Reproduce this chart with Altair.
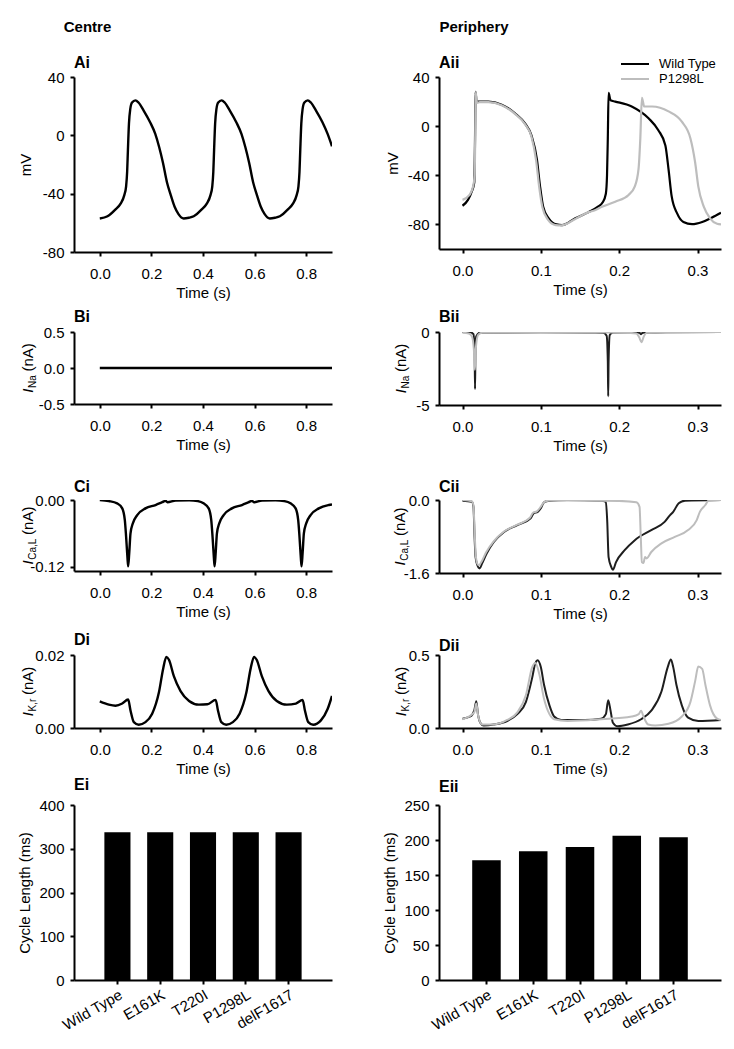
import altair as alt
import pandas as pd

FONT = "Liberation Sans"
WT_BLACK = "#000000"
WT_DARK = "#1e1e1e"
GREY = "#bdbdbd"
MINUS = "replace(datum.label, '\u2212', '-')"

# ---------------- data ----------------
# Ai : membrane potential, centre
AI_T = [0.000, 0.030, 0.060, 0.080, 0.095, 0.102, 0.106, 0.109, 0.113, 0.118, 0.125, 0.138, 0.150, 0.170, 0.195,
        0.215, 0.230, 0.245, 0.260, 0.275, 0.290, 0.305, 0.325, 0.345,
        0.364, 0.394, 0.414, 0.429, 0.436, 0.440, 0.443, 0.447, 0.452, 0.459, 0.472, 0.484, 0.504, 0.529, 0.549,
        0.564, 0.579, 0.594, 0.609, 0.624, 0.639, 0.659, 0.679,
        0.698, 0.728, 0.748, 0.763, 0.770, 0.774, 0.777, 0.781, 0.786, 0.793, 0.806, 0.818, 0.838, 0.863, 0.883, 0.900]
AI_V = [-57, -55.5, -51, -47, -41, -35, -25, -10, 8, 18, 22.5, 24, 22.5, 17, 9,
        1, -8, -19, -32, -41, -49, -54, -57, -56.5,
        -55.5, -51, -47, -41, -35, -25, -10, 8, 18, 22.5, 24, 22.5, 17, 9, 1,
        -8, -19, -32, -41, -49, -54, -57, -56.5,
        -55.5, -51, -47, -41, -35, -25, -10, 8, 18, 22.5, 24, 22.5, 17, 9, 1, -7.5]

# Aii : membrane potential, periphery
AII_WT_T = [0.000, 0.007, 0.012, 0.015, 0.0160, 0.0166, 0.018, 0.022, 0.033, 0.050,
            0.067, 0.080, 0.088, 0.095, 0.099, 0.103, 0.110, 0.120, 0.127, 0.144,
            0.161, 0.172, 0.179, 0.183, 0.1845, 0.1855, 0.1865, 0.189, 0.195, 0.216,
            0.2375, 0.250, 0.259, 0.263, 0.267, 0.274, 0.282, 0.293, 0.306, 0.318, 0.330]
AII_WT_V = [-64.8, -60, -53, -46, -10, 28, 20, 20, 20, 17.5,
            10.5, 2, -7.5, -27, -49, -65.6, -75, -80, -80.6, -75,
            -70, -66, -62, -55, -40, -10, 27, 21, 20, 16,
            6.4, -3.3, -15.8, -35, -57, -71, -78, -79.8, -78, -74.5, -70.4]
AII_MU_T = [0.000, 0.009, 0.0136, 0.0155, 0.0162, 0.0168, 0.0185, 0.022, 0.033, 0.050,
            0.067, 0.080, 0.088, 0.094, 0.098, 0.102, 0.109, 0.119, 0.126, 0.144,
            0.161, 0.169, 0.178, 0.195, 0.212, 0.220, 0.2247, 0.227, 0.229, 0.232,
            0.242, 0.263, 0.280, 0.291, 0.297, 0.301, 0.308, 0.316, 0.325, 0.330]
AII_MU_V = [-60, -56, -49, -40, -10, 28, 19, 19.5, 19.5, 17,
            10, 1.5, -8.5, -28, -50, -66, -76, -80.5, -80.8, -75.5,
            -70, -68.4, -65.6, -61.5, -56, -49, -35, -10, 23, 16,
            16, 12, 3.6, -10, -29.6, -49, -65.6, -75, -79.5, -80]

# Bi : I_Na centre
BI_T = [0.0, 0.3, 0.6, 0.9]
BI_V = [0.0, 0.0, 0.0, 0.0]

# Bii : I_Na periphery
BII_WT_T = [0.000, 0.010, 0.014, 0.0155, 0.0160, 0.0165, 0.0175, 0.022, 0.10, 0.17, 0.180, 0.184,
            0.1855, 0.186, 0.1865, 0.188, 0.192, 0.22, 0.226, 0.228, 0.230, 0.26, 0.33]
BII_WT_V = [0.0, -0.02, -0.15, -1.5, -3.9, -1.5, -0.3, -0.05, -0.02, -0.03, -0.06, -0.25,
            -2.0, -4.4, -2.0, -0.2, -0.03, -0.02, -0.06, -0.15, -0.05, -0.01, 0.0]
BII_MU_T = [0.000, 0.008, 0.012, 0.0145, 0.0158, 0.0172, 0.020, 0.025, 0.10, 0.20, 0.222, 0.2255,
            0.2285, 0.2315, 0.235, 0.26, 0.33]
BII_MU_V = [-0.05, -0.1, -0.3, -1.2, -2.6, -1.0, -0.2, -0.05, -0.02, -0.03, -0.1, -0.35,
            -0.7, -0.3, -0.06, -0.02, 0.0]

# Ci : I_CaL centre
CI_T = [0.000, 0.035, 0.067, 0.087, 0.097, 0.102, 0.107, 0.110, 0.114, 0.119, 0.128, 0.145, 0.177, 0.216,
        0.242, 0.255, 0.262, 0.294, 0.346,
        0.380, 0.402, 0.422, 0.432, 0.437, 0.442, 0.445, 0.449, 0.454, 0.463, 0.480, 0.512, 0.551, 0.577,
        0.590, 0.597, 0.629, 0.681,
        0.715, 0.739, 0.759, 0.769, 0.774, 0.779, 0.782, 0.786, 0.791, 0.800, 0.817, 0.849, 0.888, 0.900]
CI_V = [0.000, -0.002, -0.006, -0.015, -0.036, -0.066, -0.102, -0.119, -0.096, -0.060, -0.042, -0.027, -0.015, -0.009,
        -0.004, -0.0015, -0.004, -0.001, -0.0006,
        -0.002, -0.006, -0.015, -0.036, -0.066, -0.102, -0.119, -0.096, -0.060, -0.042, -0.027, -0.015, -0.009, -0.004,
        -0.0015, -0.004, -0.001, -0.0006,
        -0.002, -0.006, -0.015, -0.036, -0.066, -0.102, -0.119, -0.096, -0.060, -0.042, -0.027, -0.015, -0.009, -0.008]

# Cii : I_CaL periphery
CII_WT_T = [0.000, 0.012, 0.014, 0.0154, 0.0167, 0.019, 0.022, 0.025, 0.031, 0.040,
            0.053, 0.070, 0.087, 0.091, 0.096, 0.100, 0.104, 0.111, 0.134, 0.177,
            0.183, 0.1847, 0.1865, 0.190, 0.192, 0.196, 0.207, 0.220, 0.241, 0.258,
            0.265, 0.269, 0.276, 0.284, 0.330]
CII_WT_V = [-0.015, -0.04, -0.15, -0.81, -1.25, -1.43, -1.50, -1.39, -1.17, -0.92,
            -0.70, -0.55, -0.40, -0.29, -0.26, -0.18, -0.05, -0.015, 0.0, -0.015,
            -0.04, -0.44, -1.25, -1.47, -1.53, -1.36, -1.10, -0.88, -0.66, -0.48,
            -0.33, -0.26, -0.07, -0.015, 0.0]
CII_MU_T = [0.000, 0.012, 0.014, 0.0156, 0.0169, 0.019, 0.021, 0.024, 0.030, 0.040,
            0.053, 0.070, 0.086, 0.090, 0.095, 0.099, 0.104, 0.111, 0.150, 0.200,
            0.222, 0.226, 0.2276, 0.229, 0.231, 0.233, 0.235, 0.241, 0.254, 0.271,
            0.288, 0.299, 0.303, 0.310, 0.314, 0.330]
CII_MU_V = [0.0, -0.03, -0.12, -0.75, -1.20, -1.40, -1.43, -1.36, -1.15, -0.90,
            -0.69, -0.54, -0.39, -0.28, -0.25, -0.17, -0.05, -0.01, -0.01, -0.02,
            -0.05, -0.15, -0.81, -1.36, -1.38, -1.25, -1.28, -1.14, -0.95, -0.81,
            -0.66, -0.44, -0.26, -0.11, -0.015, 0.0]

# Di : I_Kr centre
DI_T = [0.000, 0.035, 0.061, 0.087, 0.110, 0.119, 0.132, 0.151, 0.177, 0.203,
        0.229, 0.246, 0.258, 0.268, 0.287, 0.313, 0.346, 0.384, 0.417, 0.449,
        0.458, 0.471, 0.490, 0.516, 0.542, 0.568, 0.585, 0.598, 0.608, 0.628,
        0.654, 0.686, 0.725, 0.760, 0.786, 0.795, 0.808, 0.827, 0.857, 0.883, 0.900]
DI_V = [0.0073, 0.0064, 0.0061, 0.0067, 0.0078, 0.0048, 0.0016, 0.0009, 0.0016, 0.0039,
        0.0097, 0.0164, 0.0195, 0.0187, 0.0142, 0.0101, 0.0074, 0.0064, 0.0065, 0.0077,
        0.0048, 0.0016, 0.0009, 0.0016, 0.0039, 0.0097, 0.0164, 0.0195, 0.0187, 0.0142,
        0.0101, 0.0074, 0.0064, 0.0067, 0.0077, 0.0048, 0.0016, 0.0009, 0.0021, 0.0052, 0.0088]

# Dii : I_Kr periphery
DII_WT_T = [0.000, 0.010, 0.015, 0.0176, 0.0197, 0.0227, 0.027, 0.040, 0.057, 0.070,
            0.081, 0.089, 0.093, 0.096, 0.100, 0.104, 0.111, 0.117, 0.126, 0.156,
            0.177, 0.183, 0.186, 0.189, 0.192, 0.198, 0.211, 0.228, 0.241, 0.254,
            0.262, 0.266, 0.269, 0.273, 0.280, 0.288, 0.301, 0.330]
DII_WT_V = [0.064, 0.079, 0.119, 0.183, 0.095, 0.036, 0.017, 0.024, 0.048, 0.095,
            0.179, 0.345, 0.445, 0.464, 0.417, 0.298, 0.155, 0.079, 0.055, 0.055,
            0.064, 0.095, 0.190, 0.119, 0.036, 0.012, 0.024, 0.060, 0.119, 0.250,
            0.417, 0.469, 0.417, 0.298, 0.155, 0.071, 0.048, 0.055]
DII_MU_T = [0.000, 0.015, 0.0176, 0.020, 0.025, 0.040, 0.057, 0.070, 0.081, 0.089,
            0.093, 0.098, 0.104, 0.111, 0.117, 0.134, 0.177, 0.216, 0.225, 0.228,
            0.231, 0.237, 0.246, 0.263, 0.280, 0.291, 0.297, 0.301, 0.306, 0.310,
            0.316, 0.325, 0.330]
DII_MU_V = [0.060, 0.107, 0.167, 0.083, 0.024, 0.024, 0.055, 0.107, 0.226, 0.417,
            0.445, 0.369, 0.202, 0.095, 0.060, 0.048, 0.060, 0.079, 0.095, 0.119,
            0.079, 0.024, 0.017, 0.029, 0.079, 0.179, 0.321, 0.421, 0.405, 0.298,
            0.155, 0.064, 0.055]

# E : cycle length bars
CATS = ["Wild Type", "E161K", "T220I", "P1298L", "delF1617"]
EI_VALS = [338, 338, 338, 338, 338]
EII_VALS = [171, 184, 190, 206, 204]

SERIES = ["Wild Type", "P1298L"]

LW, RW = 258, 282
LEFT_X = [-0.1, 0.9]
LEFT_TICKS = [0.0, 0.2, 0.4, 0.6, 0.8]
RIGHT_X = [-0.03, 0.33]
RIGHT_TICKS = [0.0, 0.1, 0.2, 0.3]

ANNOT = pd.DataFrame({"k": [0]})


def note(text, x, y, size=15, weight="normal", style="normal", angle=0,
         align="left", baseline="alphabetic"):
    return alt.Chart(ANNOT).mark_text(
        text=text, font=FONT, fontSize=size, fontWeight=weight, fontStyle=style,
        angle=angle, align=align, baseline=baseline, color="black"
    ).encode(x=alt.value(x), y=alt.value(y))


def xt(domain, ticks):
    return alt.X("t:Q", scale=alt.Scale(domain=domain, nice=False, zero=False),
                 axis=alt.Axis(values=ticks, format=".1f", title="Time (s)"))


def yv(domain, ticks, fmt, title=None, tp=6):
    return alt.Y("v:Q", scale=alt.Scale(domain=domain, nice=False, zero=False),
                 axis=alt.Axis(values=ticks, format=fmt, title=title, labelExpr=MINUS,
                               titlePadding=tp))


def line(t, v, x, y, color, width=2.0):
    df = pd.DataFrame({"t": t, "v": v})
    return alt.Chart(df).mark_line(color=color, strokeWidth=width, clip=True,
                                   interpolate="monotone").encode(x=x, y=y)


SUBW = {"Na": 12.8, "Ca,L": 21.1, "K,r": 12.8}


def ititle(sub, xb, h):
    w_i, w_sub, w_sp, w_rest = 4.2, SUBW[sub], 4.2, 28.3
    total = w_i + w_sub + w_sp + w_rest
    y0 = h / 2 + total / 2
    return [
        note("I", xb, y0, size=15, style="italic", angle=270),
        note(sub, xb + 3, y0 - w_i - 0.5, size=10, angle=270),
        note("(nA)", xb, y0 - w_i - w_sub - w_sp, size=15, angle=270),
    ]


# ---------------- panels ----------------
# Ai
x = xt(LEFT_X, LEFT_TICKS)
y = yv([-80, 40], [-80, -40, 0, 40], "d", "mV", 9)
p_ai = alt.layer(
    line(AI_T, AI_V, x, y, WT_BLACK, 2.4),
    note("Centre", 13.5, -50, size=15, weight="bold", align="center", baseline="middle"),
    note("Ai", 0, -9, size=16, weight="bold"),
).properties(width=LW, height=175)

# Aii
x = xt(RIGHT_X, RIGHT_TICKS)
y = yv([-100, 40], [-80, -40, 0, 40], "d", "mV", 7)
color = alt.Color("series:N", scale=alt.Scale(domain=SERIES, range=[WT_BLACK, GREY]),
                  legend=alt.Legend(title=None, orient="none", legendX=188, legendY=-21,
                                    direction="vertical", symbolType="M-2,0H2", symbolSize=196,
                                    symbolStrokeWidth=2, labelFont=FONT, labelFontSize=13,
                                    labelColor="black", labelOffset=16, rowPadding=0, padding=0))
df_wt = pd.DataFrame({"t": AII_WT_T, "v": AII_WT_V, "series": SERIES[0]})
df_mu = pd.DataFrame({"t": AII_MU_T, "v": AII_MU_V, "series": SERIES[1]})
p_aii = alt.layer(
    alt.Chart(df_wt).mark_line(strokeWidth=2.2, clip=True, interpolate="monotone").encode(
        x=x, y=y, color=color),
    alt.Chart(df_mu).mark_line(strokeWidth=2.2, clip=True, interpolate="monotone").encode(
        x=x, y=y, color=color),
    note("Periphery", 35, -50, size=15, weight="bold", align="center", baseline="middle"),
    note("Aii", 0, -9, size=16, weight="bold"),
).properties(width=RW, height=172)

# Bi
x = xt(LEFT_X, LEFT_TICKS)
y = yv([-0.5, 0.5], [-0.5, 0.0, 0.5], ".1f")
p_bi = alt.layer(
    line(BI_T, BI_V, x, y, WT_BLACK, 2.4),
    *ititle("Na", -41, 72),
    note("Bi", 0, -10, size=16, weight="bold"),
).properties(width=LW, height=72)

# Bii
x = xt(RIGHT_X, RIGHT_TICKS)
y = yv([-5, 0], [-5, 0], "d")
p_bii = alt.layer(
    line(BII_WT_T, BII_WT_V, x, y, WT_DARK, 2.0),
    line(BII_MU_T, BII_MU_V, x, y, GREY, 2.0),
    *ititle("Na", -33, 73),
    note("Bii", 0, -10, size=16, weight="bold"),
).properties(width=RW, height=73)

# Ci
x = xt(LEFT_X, LEFT_TICKS)
y = yv([-0.1275, 0.0], [-0.12, 0.0], ".2f")
p_ci = alt.layer(
    line(CI_T, CI_V, x, y, WT_BLACK, 2.4),
    *ititle("Ca,L", -41, 71),
    note("Ci", 0, -8, size=16, weight="bold"),
).properties(width=LW, height=71)

# Cii
x = xt(RIGHT_X, RIGHT_TICKS)
y = yv([-1.6, 0.0], [-1.6, 0.0], ".1f")
p_cii = alt.layer(
    line(CII_WT_T, CII_WT_V, x, y, WT_DARK, 2.0),
    line(CII_MU_T, CII_MU_V, x, y, GREY, 2.0),
    *ititle("Ca,L", -34, 73),
    note("Cii", 0, -8, size=16, weight="bold"),
).properties(width=RW, height=73)

# Di
x = xt(LEFT_X, LEFT_TICKS)
y = yv([0.0, 0.02], [0.0, 0.02], ".2f")
p_di = alt.layer(
    line(DI_T, DI_V, x, y, WT_BLACK, 2.4),
    *ititle("K,r", -41, 73),
    note("Di", 0, -10, size=16, weight="bold"),
).properties(width=LW, height=73)

# Dii
x = xt(RIGHT_X, RIGHT_TICKS)
y = yv([0.0, 0.5], [0.0, 0.5], ".1f")
p_dii = alt.layer(
    line(DII_WT_T, DII_WT_V, x, y, WT_DARK, 2.0),
    line(DII_MU_T, DII_MU_V, x, y, GREY, 2.0),
    *ititle("K,r", -33, 73),
    note("Dii", 0, -4, size=16, weight="bold"),
).properties(width=RW, height=73)


def bar_panel(vals, ymax, ticks, w, label, label_y, tp):
    df = pd.DataFrame({"cat": CATS, "val": vals})
    bars = alt.Chart(df).mark_bar(color="black").encode(
        x=alt.X("cat:N", sort=CATS, scale=alt.Scale(paddingInner=0.39, paddingOuter=0.71),
                axis=alt.Axis(title=None, labelAngle=-30, labelAlign="right", labelBaseline="top",
                              labelPadding=3)),
        y=alt.Y("val:Q", scale=alt.Scale(domain=[0, ymax], nice=False),
                axis=alt.Axis(values=ticks, format="d", title="Cycle Length (ms)", titlePadding=tp)),
    )
    return alt.layer(bars, note(label, 0, label_y, size=16, weight="bold")).properties(width=w, height=175)


p_ei = bar_panel(EI_VALS, 400, [0, 100, 200, 300, 400], LW, "Ei", -15, 6)
p_eii = bar_panel(EII_VALS, 250, [0, 50, 100, 150, 200, 250], RW, "Eii", -13, 6)


def spacer(w, h):
    return alt.Chart(ANNOT).mark_point(opacity=0).encode(
        x=alt.value(0), y=alt.value(0)).properties(width=w, height=h)


cells = [
    p_ai, p_aii,
    spacer(LW, 4), spacer(RW, 4),
    p_bi, p_bii,
    spacer(LW, 19), spacer(RW, 19),
    p_ci, p_cii,
    spacer(LW, 6), spacer(RW, 6),
    p_di, p_dii,
    spacer(LW, 1), spacer(RW, 1),
    p_ei, p_eii,
]

chart = alt.concat(*cells, columns=2, spacing={"row": 38, "column": 107},
                   bounds="flush", align="each").resolve_scale(
    color="independent"
).properties(
    padding={"left": 9, "top": 12, "right": 5, "bottom": 5}
).configure_view(stroke=None).configure_axis(
    domainColor="black", domainWidth=2, tickColor="black", tickWidth=2, tickSize=4,
    labelFont=FONT, labelFontSize=15, labelColor="black",
    titleFont=FONT, titleFontSize=15, titleFontWeight="normal", titleColor="black",
    grid=False, labelFlush=False,
).configure_axisX(labelPadding=10, titlePadding=4).configure_axisY(labelPadding=6)

chart.save("out.html", embed_options={"renderer": "svg", "actions": False})
